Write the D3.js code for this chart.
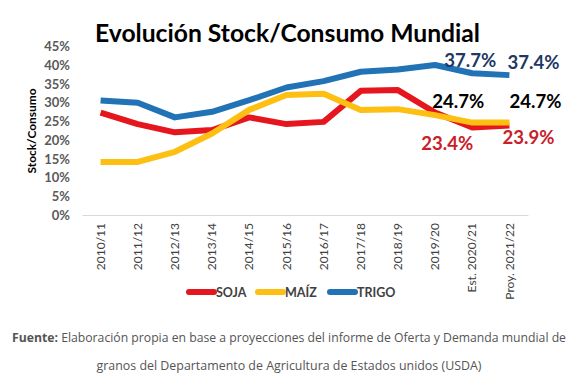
<!DOCTYPE html>
<html>
<head>
<meta charset="utf-8">
<script src="https://cdn.jsdelivr.net/npm/d3@7"></script>
<style>
  body { margin: 0; background: #fff; }
  svg { display: block; font-family: Lato, "Open Sans", sans-serif; }
</style>
</head>
<body>
<svg id="chart" width="583" height="384"></svg>
<script>
// campañas
var categories = ["2010/11", "2011/12", "2012/13", "2013/14", "2014/15", "2015/16",
  "2016/17", "2017/18", "2018/19", "2019/20", "Est. 2020/21", "Proy. 2021/22"];

// stock/consumo, en %
var soja  = [27.4, 24.3, 22.1, 22.7, 26.1, 24.3, 24.9, 33.2, 33.4, 27.4, 23.4, 23.9];
var maiz  = [14.2, 14.2, 16.9, 21.8, 28.1, 32.1, 32.4, 28.1, 28.3, 26.7, 24.7, 24.7];
var trigo = [30.6, 30.0, 26.1, 27.6, 30.7, 34.1, 35.8, 38.3, 38.9, 40.1, 37.9, 37.4];

var seriesNames = ["SOJA", "MAÍZ", "TRIGO"];
var yTicks = [0, 5, 10, 15, 20, 25, 30, 35, 40, 45];

// etiquetas de las dos ultimas campañas
var labelSeries = ["TRIGO", "TRIGO", "MAÍZ", "MAÍZ", "SOJA", "SOJA"];
var labelCats = ["Est. 2020/21", "Proy. 2021/22", "Est. 2020/21", "Proy. 2021/22", "Est. 2020/21", "Proy. 2021/22"];
var labelTexts = ["37.7%", "37.4%", "24.7%", "24.7%", "23.4%", "23.9%"];

var colors = { "SOJA": "#e5161d", "MAÍZ": "#fcbf12", "TRIGO": "#2272b6" };
var labelColors = { "SOJA": "#c8202a", "MAÍZ": "#000000", "TRIGO": "#1f3864" };

var svg = d3.select("#chart");

var x = d3.scaleBand().domain(categories).range([82, 528]);
var y = d3.scaleLinear().domain([0, 45]).range([215, 46.7]);
var cx = function(c) { return x(c) + x.bandwidth() / 2; };

var series = [
  { name: "SOJA", values: soja },
  { name: "MAÍZ", values: maiz },
  { name: "TRIGO", values: trigo }
];

// titulo
svg.append("text")
  .attr("x", 95).attr("y", 42)
  .attr("textLength", 385).attr("lengthAdjust", "spacingAndGlyphs")
  .style("font-size", "24px").style("font-weight", "bold").style("fill", "#000")
  .text("Evolución Stock/Consumo Mundial");

// eje y
var yAxis = svg.append("g")
  .attr("transform", "translate(72,0)")
  .call(d3.axisLeft(y).tickValues(yTicks).tickSize(0).tickPadding(2).tickFormat(function(d) { return d + "%"; }));
yAxis.select(".domain").remove();
yAxis.selectAll("text")
  .style("font-family", "Lato, sans-serif")
  .style("font-size", "13px").style("font-weight", "bold").style("fill", "#595959");

svg.append("text")
  .attr("transform", "translate(36,131) rotate(-90)")
  .attr("text-anchor", "middle")
  .attr("textLength", 85).attr("lengthAdjust", "spacingAndGlyphs")
  .style("font-size", "11.5px").style("font-weight", "bold").style("fill", "#000")
  .text("Stock/Consumo");

// eje x
var xAxis = svg.append("g")
  .attr("transform", "translate(0,215)")
  .call(d3.axisBottom(x).tickSize(0).tickPadding(0));
xAxis.select(".domain").attr("stroke", "#d9d9d9").attr("stroke-width", 1);
xAxis.selectAll("text")
  .attr("transform", "rotate(-90)")
  .attr("text-anchor", "end")
  .attr("x", -8).attr("y", 0).attr("dy", "0.35em")
  .style("font-family", "Lato, sans-serif")
  .style("font-size", "12px").style("fill", "#404040");

// lineas
var line = d3.line()
  .x(function(d, i) { return cx(categories[i]); })
  .y(function(d) { return y(d); });

svg.append("g").selectAll("path")
  .data(series)
  .join("path")
  .attr("d", function(s) { return line(s.values); })
  .attr("fill", "none")
  .attr("stroke", function(s) { return colors[s.name]; })
  .attr("stroke-width", 6)
  .attr("stroke-linejoin", "round")
  .attr("stroke-linecap", "butt");

// etiquetas de datos
var offsets = [[-2, -6], [24, -6], [-14, -15], [26, -15], [-25, 23], [19, 18]];
svg.append("g").selectAll("text")
  .data(labelTexts)
  .join("text")
  .attr("x", function(d, i) { return cx(labelCats[i]) + offsets[i][0]; })
  .attr("y", function(d, i) {
    var s = series.find(function(e) { return e.name === labelSeries[i]; });
    return y(s.values[categories.indexOf(labelCats[i])]) + offsets[i][1];
  })
  .attr("text-anchor", "middle")
  .attr("textLength", 52).attr("lengthAdjust", "spacingAndGlyphs")
  .style("font-size", "18px").style("font-weight", "bold")
  .style("fill", function(d, i) { return labelColors[labelSeries[i]]; })
  .text(function(d) { return d; });

// leyenda
var legendX = [187, 256, 328];
var lg = svg.append("g").selectAll("g")
  .data(seriesNames)
  .join("g")
  .attr("transform", function(d, i) { return "translate(" + legendX[i] + ",292)"; });
lg.append("line")
  .attr("x1", 2).attr("x2", 27).attr("y1", 0).attr("y2", 0)
  .attr("stroke", function(d) { return colors[d]; })
  .attr("stroke-width", 6).attr("stroke-linecap", "round");
lg.append("text")
  .attr("x", 29).attr("y", 0).attr("dy", "0.36em")
  .style("font-size", "12.5px").style("font-weight", "bold").style("fill", "#404040")
  .text(function(d) { return d; });

// fuente
var foot = svg.append("text")
  .attr("x", 289).attr("y", 342)
  .attr("text-anchor", "middle")
  .attr("textLength", 554).attr("lengthAdjust", "spacingAndGlyphs")
  .style("font-family", "'Open Sans', sans-serif")
  .style("font-size", "12.5px").style("fill", "#555");
foot.append("tspan").style("font-weight", "bold").text("Fuente:");
foot.append("tspan").text(" Elaboración propia en base a proyecciones del informe de Oferta y Demanda mundial de");

svg.append("text")
  .attr("x", 289).attr("y", 370)
  .attr("text-anchor", "middle")
  .attr("textLength", 385).attr("lengthAdjust", "spacingAndGlyphs")
  .style("font-family", "'Open Sans', sans-serif")
  .style("font-size", "12.5px").style("fill", "#555")
  .text("granos del Departamento de Agricultura de Estados unidos (USDA)");
</script>
</body>
</html>
